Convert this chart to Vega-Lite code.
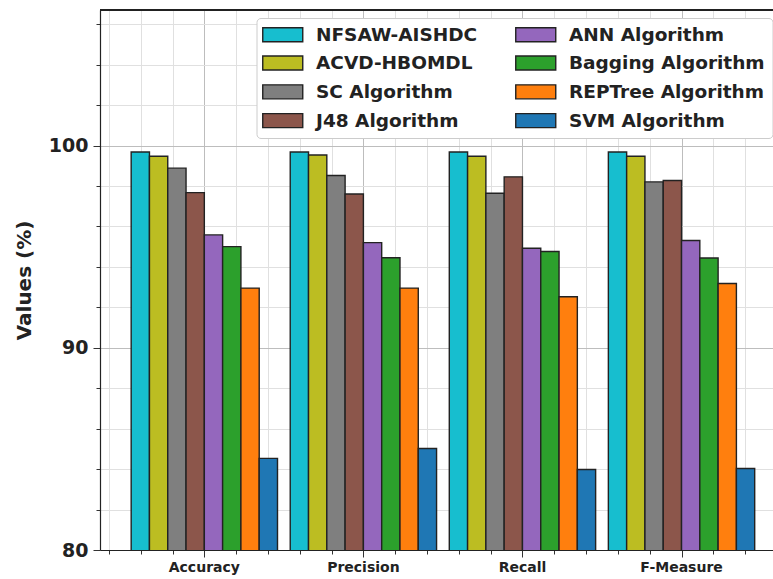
{
  "$schema": "https://vega.github.io/schema/vega-lite/v6.json",
  "width": 673,
  "height": 540,
  "autosize": "none",
  "padding": {"left": 100, "top": 10, "right": 0, "bottom": 29},
  "background": "white",
  "config": {
    "view": {"stroke": null},
    "font": "DejaVu Sans"
  },
  "data": {
    "values": [
      {"metric": "Accuracy", "model": "NFSAW-AISHDC", "value": 99.68},
      {"metric": "Accuracy", "model": "ACVD-HBOMDL", "value": 99.47},
      {"metric": "Accuracy", "model": "SC Algorithm", "value": 98.88},
      {"metric": "Accuracy", "model": "J48 Algorithm", "value": 97.67},
      {"metric": "Accuracy", "model": "ANN Algorithm", "value": 95.58},
      {"metric": "Accuracy", "model": "Bagging Algorithm", "value": 95.0},
      {"metric": "Accuracy", "model": "REPTree Algorithm", "value": 92.95},
      {"metric": "Accuracy", "model": "SVM Algorithm", "value": 84.53},
      {"metric": "Precision", "model": "NFSAW-AISHDC", "value": 99.68},
      {"metric": "Precision", "model": "ACVD-HBOMDL", "value": 99.53},
      {"metric": "Precision", "model": "SC Algorithm", "value": 98.52},
      {"metric": "Precision", "model": "J48 Algorithm", "value": 97.6},
      {"metric": "Precision", "model": "ANN Algorithm", "value": 95.2},
      {"metric": "Precision", "model": "Bagging Algorithm", "value": 94.45},
      {"metric": "Precision", "model": "REPTree Algorithm", "value": 92.95},
      {"metric": "Precision", "model": "SVM Algorithm", "value": 85.02},
      {"metric": "Recall", "model": "NFSAW-AISHDC", "value": 99.68},
      {"metric": "Recall", "model": "ACVD-HBOMDL", "value": 99.47},
      {"metric": "Recall", "model": "SC Algorithm", "value": 97.64},
      {"metric": "Recall", "model": "J48 Algorithm", "value": 98.45},
      {"metric": "Recall", "model": "ANN Algorithm", "value": 94.92},
      {"metric": "Recall", "model": "Bagging Algorithm", "value": 94.76},
      {"metric": "Recall", "model": "REPTree Algorithm", "value": 92.52},
      {"metric": "Recall", "model": "SVM Algorithm", "value": 83.98},
      {"metric": "F-Measure", "model": "NFSAW-AISHDC", "value": 99.68},
      {"metric": "F-Measure", "model": "ACVD-HBOMDL", "value": 99.47},
      {"metric": "F-Measure", "model": "SC Algorithm", "value": 98.2},
      {"metric": "F-Measure", "model": "J48 Algorithm", "value": 98.27},
      {"metric": "F-Measure", "model": "ANN Algorithm", "value": 95.3},
      {"metric": "F-Measure", "model": "Bagging Algorithm", "value": 94.44},
      {"metric": "F-Measure", "model": "REPTree Algorithm", "value": 93.18},
      {"metric": "F-Measure", "model": "SVM Algorithm", "value": 84.03}
    ]
  },
  "layer": [
    {
      "mark": {"type": "rule", "opacity": 0},
      "encoding": {
        "x": {
          "datum": 0,
          "type": "quantitative",
          "scale": {"domain": [-0.656, 3.575], "nice": false, "zero": false},
          "axis": {
            "orient": "bottom",
            "title": null,
            "values": [-0.6, -0.4, -0.2, 0, 0.2, 0.4, 0.6, 0.8, 1, 1.2, 1.4, 1.6, 1.8, 2, 2.2, 2.4, 2.6, 2.8, 3, 3.2, 3.4],
            "labels": false,
            "domain": false,
            "grid": true,
            "gridColor": {"condition": {"test": "abs(datum.value - round(datum.value)) < 0.01", "value": "#bdbdbd"}, "value": "#e0e0e0"},
            "gridWidth": 1,
            "ticks": true,
            "tickColor": "#333333",
            "tickWidth": 1,
            "tickSize": {"condition": {"test": "abs(datum.value - round(datum.value)) < 0.01", "value": 7}, "value": 4}
          }
        }
      }
    },
    {
      "mark": {"type": "bar", "stroke": "#222222", "strokeWidth": 1.4, "clip": true},
      "encoding": {
        "x": {
          "field": "metric",
          "type": "nominal",
          "sort": ["Accuracy", "Precision", "Recall", "F-Measure"],
          "scale": {"paddingInner": 0.08, "paddingOuter": 0.1555, "align": 0.63},
          "axis": {
            "orient": "bottom",
            "title": null,
            "labelAngle": 0,
            "ticks": false,
            "domain": true,
            "domainColor": "#222222",
            "domainWidth": 1.2,
            "labelFont": "DejaVu Sans",
            "labelFontWeight": "bold",
            "labelFontSize": 14,
            "labelColor": "#222222",
            "labelPadding": 10,
            "grid": false
          }
        },
        "xOffset": {
          "field": "model",
          "type": "nominal",
          "sort": ["NFSAW-AISHDC", "ACVD-HBOMDL", "SC Algorithm", "J48 Algorithm", "ANN Algorithm", "Bagging Algorithm", "REPTree Algorithm", "SVM Algorithm"]
        },
        "y": {
          "field": "value",
          "type": "quantitative",
          "scale": {"domain": [80, 106.7], "nice": false, "zero": false},
          "axis": {
            "title": "Values (%)",
            "titleFont": "DejaVu Sans",
            "titleFontSize": 20,
            "titleFontWeight": "bold",
            "titleColor": "#222222",
            "titlePadding": 14,
            "values": [80, 81, 82, 83, 84, 85, 86, 87, 88, 89, 90, 91, 92, 93, 94, 95, 96, 97, 98, 99, 100, 101, 102, 103, 104, 105, 106],
            "labelExpr": "datum.value % 5 == 0 && datum.value <= 100 ? datum.label : ''",
            "labelFont": "DejaVu Sans",
            "labelFontSize": 19,
            "labelFontWeight": "bold",
            "labelColor": "#222222",
            "labelPadding": 5,
            "domainColor": "#222222",
            "domainWidth": 1.2,
            "tickColor": "#333333",
            "tickSize": {"condition": {"test": "datum.value % 5 == 0 && datum.value <= 100", "value": 7}, "value": 4},
            "grid": true,
            "gridColor": {"condition": {"test": "datum.value % 5 == 0 && datum.value <= 100", "value": "#bdbdbd"}, "value": "#e0e0e0"},
            "gridWidth": 1
          }
        },
        "color": {
          "field": "model",
          "type": "nominal",
          "scale": {
            "domain": ["NFSAW-AISHDC", "ACVD-HBOMDL", "SC Algorithm", "J48 Algorithm", "ANN Algorithm", "Bagging Algorithm", "REPTree Algorithm", "SVM Algorithm"],
            "range": ["#17becf", "#bcbd22", "#7f7f7f", "#8c564b", "#9467bd", "#2ca02c", "#ff7f0e", "#1f77b4"]
          },
          "legend": {
            "title": null,
            "orient": "none",
            "legendX": 156.5,
            "legendY": 8,
            "columns": 2,
            "columnPadding": 35,
            "rowPadding": 7.8,
            "padding": 7,
            "fillColor": "white",
            "strokeColor": "#cccccc",
            "cornerRadius": 4,
            "symbolType": "M-2,-1.4H6V1.4H-2Z",
            "symbolSize": 100,
            "symbolStrokeColor": "#222222",
            "symbolStrokeWidth": 1.4,
            "symbolOpacity": 1,
            "labelFont": "DejaVu Sans",
            "labelFontSize": 18.5,
            "labelFontWeight": "bold",
            "labelColor": "#222222",
            "labelOffset": 34,
            "labelLimit": 300
          }
        }
      }
    },
    {
      "mark": {"type": "rule", "color": "#222222", "strokeWidth": 1.4},
      "encoding": {"y": {"datum": 106.7}}
    }
  ],
  "resolve": {"scale": {"x": "independent"}, "axis": {"x": "independent"}}
}
